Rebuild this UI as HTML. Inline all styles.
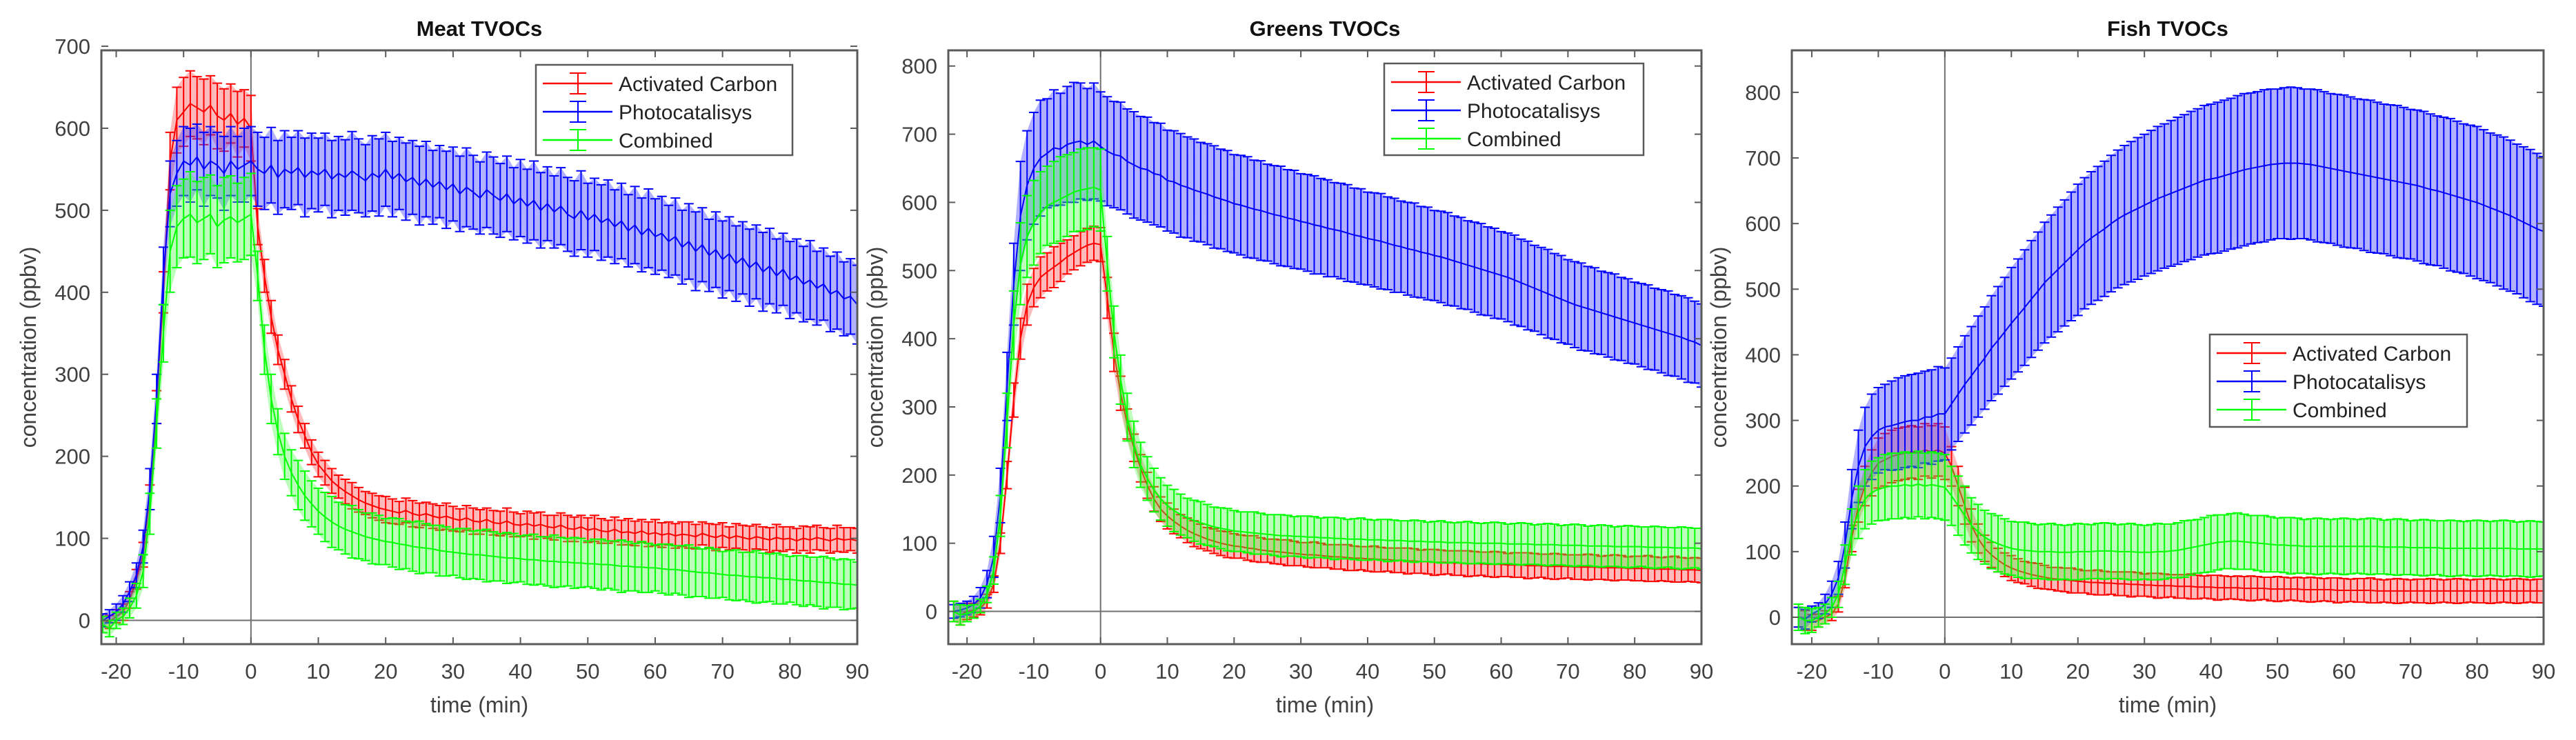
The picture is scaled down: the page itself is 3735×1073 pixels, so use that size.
<!DOCTYPE html>
<html><head><meta charset="utf-8">
<style>
html,body{margin:0;padding:0;background:#fff;}
svg{display:block;}
text{font-family:"Liberation Sans",Arial,sans-serif;}
</style></head>
<body>
<svg id="fig" width="3735" height="1073" viewBox="0 0 3735 1073" xmlns="http://www.w3.org/2000/svg"></svg>
<script>
// ---------- DATA ----------
const timeStart = -22;            // minutes, first sample
const xTicks = [-20,-10,0,10,20,30,40,50,60,70,80,90];
const yTicksMeat = [0,100,200,300,400,500,600,700];
const yTicksGreens = [0,100,200,300,400,500,600,700,800];
const yTicksFish = [0,100,200,300,400,500,600,700,800];
const seriesNames = ["Activated Carbon","Photocatalisys","Combined"];
const panelTitles = ["Meat TVOCs","Greens TVOCs","Fish TVOCs"];

// Meat
const meatRed = [0,-2,5,10,25,50,80,150,260,400,560,610,620,630,625,620,628,615,610,618,605,612,600,
480,420,370,330,300,270,245,225,205,190,180,170,163,157,152,147,143,140,137,135,
133,131,134,130,128,130,127,125,127,124,122,125,121,120,123,119,118,121,117,116,
118,115,117,114,113,116,112,111,114,110,112,109,108,111,107,108,106,109,105,107,
104,106,103,105,104,102,106,103,101,104,100,103,101,99,102,100,98,101,99,100,
97,100,98,101,99,97,100,98,99,97];
const meatRedErr = [8,8,8,10,10,12,15,15,20,25,35,40,42,40,38,40,36,40,38,36,40,35,40,
22,20,20,18,18,16,16,15,15,15,15,15,14,15,16,15,14,15,15,16,15,14,15,16,15,14,15,15,16,15,
14,15,16,15,14,15,15,16,15,14,15,16,15,14,15,15,16,15,14,15,16,15,14,15,15,16,15,14,15,16,
15,14,15,15,16,15,14,15,16,15,14,15,15,16,15,14,15,16,15,14,15,15,16,15,14,15,16,15,14,15];
const meatBlue = [0,5,10,20,35,55,90,160,270,420,520,545,560,555,565,550,560,555,545,560,550,555,560,
550,545,555,540,550,545,552,540,548,543,550,538,545,540,548,542,536,545,540,550,
538,545,535,540,530,538,528,535,525,532,520,528,522,515,525,518,512,520,508,515,
505,512,500,508,498,505,495,490,500,488,495,485,490,480,487,475,482,470,478,468,
472,462,468,455,462,450,458,445,452,440,447,435,442,430,437,425,432,420,428,415,
420,410,415,405,410,398,402,392,395,385];
const meatBlueErr = [8,8,10,10,12,15,20,25,30,35,40,40,42,45,40,45,42,40,45,42,40,45,42,
45,44,46,45,47,44,45,48,46,45,44,47,45,46,48,45,44,46,47,45,46,44,47,45,48,46,45,44,47,45,
46,48,45,44,46,47,45,46,44,47,45,48,46,45,44,47,45,46,48,45,44,46,47,45,46,44,47,45,48,46,
45,44,47,45,46,48,45,44,46,47,45,46,44,47,45,48,46,45,44,47,45,46,48,45,44,46,47,45,46,48];
const meatGreen = [-5,-10,0,5,15,30,60,130,240,350,450,480,490,495,485,490,495,480,488,492,485,490,495,
420,330,270,230,200,180,165,152,142,133,126,120,115,111,108,105,102,100,98,96,
95,93,92,90,89,88,87,85,84,83,82,81,80,80,79,78,77,76,76,75,
74,74,73,72,72,71,71,70,70,69,69,68,68,67,66,66,65,65,64,64,
63,62,62,61,60,59,58,58,57,56,55,55,54,53,53,52,52,51,50,50,
49,48,48,47,46,46,45,44,44,43];
const meatGreenErr = [10,10,10,10,12,15,20,25,30,35,50,50,48,52,50,50,48,50,52,50,48,50,50,
30,30,30,28,28,28,30,30,28,28,30,31,29,30,32,30,29,31,30,28,30,31,29,30,32,30,29,31,30,28,
30,31,29,30,32,30,29,31,30,28,30,31,29,30,32,30,29,31,30,28,30,31,29,30,32,30,29,31,30,28,
30,31,29,30,32,30,29,31,30,28,30,31,29,30,32,30,29,31,30,28,30,31,29,30,32,30,29,31,30,28];

// Greens
const greensRed = [0,-5,0,2,5,15,40,100,200,310,400,450,475,490,498,505,512,520,526,532,537,540,538,
460,380,320,275,240,210,185,165,150,140,132,125,119,114,110,106,103,100,98,96,
95,93,92,90,89,88,87,86,85,84,83,83,82,81,80,80,79,78,78,77,
77,76,76,75,75,74,74,73,73,72,72,72,71,71,70,70,70,69,69,69,
68,68,68,67,67,67,66,66,66,66,65,65,65,65,64,64,64,64,63,63,
63,63,62,62,62,62,61,61,61,60];
const greensRedErr = [15,15,12,10,10,10,12,15,20,25,30,30,28,30,28,30,28,25,25,25,25,25,25,
30,28,25,22,20,20,19,18,18,19,18,17,18,19,18,17,18,18,19,18,17,18,19,18,17,18,18,19,18,17,
18,19,18,17,18,18,19,18,17,18,19,18,17,18,18,19,18,17,18,19,18,17,18,18,19,18,17,18,19,18,
17,18,18,19,18,17,18,19,18,17,18,18,19,18,17,18,19,18,17,18,18,19,18,17,18,19,18,17,18,18];
const greensBlue = [0,2,5,10,20,40,80,170,330,480,580,625,650,665,672,680,678,685,688,690,685,690,682,
675,670,668,660,655,650,648,642,640,632,630,625,622,618,615,612,608,605,602,598,
596,593,590,588,585,582,580,577,575,572,570,567,565,562,560,558,555,552,550,547,
545,543,540,537,535,532,530,527,525,522,520,517,514,511,508,505,502,499,496,493,
490,486,482,478,474,470,466,462,458,454,450,447,444,441,438,435,432,429,426,423,
420,417,414,411,408,405,402,398,395,390];
const greensBlueErr = [10,10,10,12,15,20,30,40,50,60,80,80,82,85,80,85,82,85,88,85,82,85,80,
80,78,79,77,78,76,77,75,76,74,75,76,74,75,73,74,75,73,74,72,73,74,72,73,71,72,73,71,72,70,
71,72,70,71,69,70,71,69,70,68,69,70,68,69,67,68,69,67,68,66,67,68,66,67,65,66,67,65,66,64,
65,66,64,65,63,64,65,63,64,62,63,64,62,63,61,62,63,61,62,60,61,62,60,61,62,60,61,62,60,61];
const greensGreen = [0,-5,-3,0,8,25,60,140,280,420,510,550,570,585,595,600,605,610,615,618,620,622,618,
510,410,340,285,245,215,195,178,165,155,148,142,137,133,130,127,124,122,120,118,
117,116,115,114,113,112,111,111,110,110,109,109,108,108,107,107,106,106,106,105,
105,105,104,104,104,103,103,103,102,102,102,101,101,101,101,100,100,100,100,100,
99,99,99,99,98,98,98,98,97,97,97,97,96,96,96,96,95,95,95,95,
95,94,94,94,94,93,93,93,93,92];
const greensGreenErr = [15,15,12,10,10,12,20,30,40,50,60,60,62,60,58,60,62,60,58,60,60,58,60,
40,38,36,35,34,33,32,32,31,30,31,30,29,30,31,30,29,30,31,30,29,30,31,30,29,30,31,30,29,30,
31,30,29,30,31,30,29,30,31,30,29,30,31,30,29,30,31,30,29,30,31,30,29,30,31,30,29,30,31,30,
29,30,31,30,29,30,31,30,29,30,31,30,29,30,31,30,29,30,31,30,29,30,31,30,29,30,31,30,29,30];

// Fish
const fishRed = [0,-5,-8,-5,0,5,20,60,120,170,200,220,235,240,245,248,250,252,250,255,252,255,250,
230,200,170,140,120,105,95,87,80,75,71,68,65,63,61,59,58,57,56,55,
54,53,53,52,52,51,51,50,50,49,49,48,48,48,47,47,47,46,46,46,
45,45,45,45,44,44,44,44,43,43,43,43,43,42,42,42,42,42,41,41,
41,41,41,41,40,40,40,40,40,40,40,40,40,40,40,40,40,40,40,40,
40,40,40,40,40,40,40,40,40,40];
const fishRedErr = [15,15,12,10,10,10,12,15,20,25,30,35,38,40,40,40,40,40,40,40,40,40,40,
30,30,28,25,22,20,19,18,18,19,18,17,18,19,18,17,18,18,19,18,17,18,19,18,17,18,18,19,18,17,
18,19,18,17,18,18,19,18,17,18,19,18,17,18,18,19,18,17,18,19,18,17,18,18,19,18,17,18,19,18,
17,18,18,19,18,17,18,19,18,17,18,18,19,18,17,18,19,18,17,18,18,19,18,17,18,19,18,17,18,18];
const fishBlue = [0,-3,5,10,20,35,60,110,180,230,260,275,285,290,292,295,298,300,300,305,305,310,310,
325,340,355,368,382,395,410,422,435,448,460,472,485,497,510,520,530,540,550,560,
570,578,585,592,600,607,613,618,623,628,633,638,642,646,650,654,658,662,666,668,
670,673,676,679,682,684,686,688,690,691,692,692,692,691,690,688,686,684,682,680,
678,676,674,672,670,668,666,664,662,660,658,655,652,650,647,644,641,638,635,632,
628,624,620,616,612,607,602,597,592,588];
const fishBlueErr = [15,15,12,12,15,20,25,35,45,55,60,65,65,65,68,70,70,70,72,70,72,72,70,
70,72,74,75,77,78,80,82,83,85,86,88,89,90,92,93,95,96,98,100,100,101,102,103,104,105,106,107,108,108,
109,110,110,111,112,112,113,113,114,114,115,115,115,116,116,115,115,116,115,114,115,116,115,114,115,116,115,114,115,116,
115,114,115,116,115,114,115,116,115,114,115,116,115,114,115,116,115,114,115,116,115,114,115,116,115,114,115,116,115,114];
const fishGreen = [0,-5,-5,0,5,15,35,80,130,160,180,190,195,198,200,200,202,200,203,200,202,200,198,
185,170,155,140,130,122,116,112,108,105,103,102,101,100,100,100,99,99,99,100,
100,100,101,101,101,100,100,100,99,99,99,100,100,101,102,104,106,108,110,112,
114,115,116,116,115,114,113,112,111,110,110,109,109,108,108,108,108,108,108,108,
108,108,108,108,108,107,107,107,107,106,106,106,106,106,105,105,105,105,105,105,
105,105,105,105,105,104,104,104,104,104];
const fishGreenErr = [20,20,18,15,15,15,20,30,35,40,45,48,48,50,50,50,50,50,50,50,50,50,50,
45,45,45,42,42,41,42,43,42,41,42,43,42,41,42,43,42,41,42,43,42,41,42,43,42,41,42,43,42,41,
42,43,42,41,42,43,42,41,42,43,42,41,42,43,42,41,42,43,42,41,42,43,42,41,42,43,42,41,42,43,
42,41,42,43,42,41,42,43,42,41,42,43,42,41,42,43,42,41,42,43,42,41,42,43,42,41,42,43,42,41];

// ---------- DRAWING ----------
const NS = "http://www.w3.org/2000/svg";
const svg = document.getElementById("fig");
const colors = ["#ff0000","#0000ff","#00ff00"];
const fills = ["rgba(255,60,60,0.35)","rgba(60,60,255,0.4)","rgba(60,255,60,0.35)"];

function mk(tag, attrs, parent){
  const el = document.createElementNS(NS, tag);
  for (const k in attrs) el.setAttribute(k, attrs[k]);
  (parent||svg).appendChild(el);
  return el;
}

const panels = [
  {key:"meat", left:147, right:1243, top:73, bottom:934, xmin:-22.2, xmax:90, ymin:-29, ymax:695, yTicks:yTicksMeat,
   series:[[meatRed,meatRedErr],[meatBlue,meatBlueErr],[meatGreen,meatGreenErr]],
   legend:{x:777,y:94,w:372,h:131}},
  {key:"greens", left:1375, right:2467, top:73, bottom:934, xmin:-22.8, xmax:90, ymin:-48, ymax:823, yTicks:yTicksGreens,
   series:[[greensRed,greensRedErr],[greensBlue,greensBlueErr],[greensGreen,greensGreenErr]],
   legend:{x:2007,y:92,w:376,h:133}},
  {key:"fish", left:2598, right:3688, top:73, bottom:934, xmin:-23, xmax:90, ymin:-41, ymax:864, yTicks:yTicksFish,
   series:[[fishRed,fishRedErr],[fishBlue,fishBlueErr],[fishGreen,fishGreenErr]],
   legend:{x:3204,y:485,w:373,h:134}}
];

panels.forEach((p, pi) => {
  const g = mk("g", {});
  
  
  const sx = v => p.left + (v - p.xmin) / (p.xmax - p.xmin) * (p.right - p.left);
  const sy = v => p.bottom - (v - p.ymin) / (p.ymax - p.ymin) * (p.bottom - p.top);

  // clip
  const cp = mk("clipPath", {id:"clip"+pi}, g);
  mk("rect", {x:p.left, y:p.top, width:p.right-p.left, height:p.bottom-p.top}, cp);

  // zero lines
  const zl = mk("line", {x1:p.left, x2:p.right, y1:sy(0), y2:sy(0), stroke:"#707070", "stroke-width":2}, g);
  
  
  const vl = mk("line", {x1:sx(0), x2:sx(0), y1:p.top, y2:p.bottom, stroke:"#707070", "stroke-width":2}, g);
  
  

  const plot = mk("g", {"clip-path":"url(#clip"+pi+")"}, g);
  p.series.forEach((s, si) => {
    const vals = s[0], errs = s[1];
    const n = vals.length;
    const sg = mk("g", {}, plot);
    
    
    // shaded band
    let up = [], lo = [];
    for (let i = 0; i < n; i++) {
      const t = timeStart + i;
      up.push(sx(t).toFixed(1) + "," + sy(vals[i] + errs[i]).toFixed(1));
      lo.unshift(sx(t).toFixed(1) + "," + sy(vals[i] - errs[i]).toFixed(1));
    }
    const band = mk("polygon", {points: up.concat(lo).join(" "), fill: fills[si], stroke:"none"}, sg);
    
    
    // error bars
    let d = "";
    for (let i = 0; i < n; i++) {
      const x = sx(timeStart + i), y1 = sy(vals[i] + errs[i]), y2 = sy(vals[i] - errs[i]);
      d += `M${x.toFixed(1)},${y1.toFixed(1)}V${y2.toFixed(1)}M${(x-7).toFixed(1)},${y1.toFixed(1)}H${(x+7).toFixed(1)}M${(x-7).toFixed(1)},${y2.toFixed(1)}H${(x+7).toFixed(1)}`;
    }
    const eb = mk("path", {d:d, stroke:colors[si], "stroke-width":2, fill:"none"}, sg);
    
    
    // mean line
    let pts = [];
    for (let i = 0; i < n; i++) pts.push(sx(timeStart + i).toFixed(1) + "," + sy(vals[i]).toFixed(1));
    const ln = mk("polyline", {points: pts.join(" "), fill:"none", stroke:colors[si], "stroke-width":2}, sg);
    
    
  });

  // box
  const box = mk("rect", {x:p.left, y:p.top, width:p.right-p.left, height:p.bottom-p.top, fill:"none", stroke:"#5a5a5a", "stroke-width":3}, g);
  
  

  // x ticks
  xTicks.forEach(t => {
    const x = sx(t);
    mk("line", {x1:x, x2:x, y1:p.bottom, y2:p.bottom-10, stroke:"#5a5a5a", "stroke-width":2}, g);
    mk("line", {x1:x, x2:x, y1:p.top, y2:p.top+10, stroke:"#5a5a5a", "stroke-width":2}, g);
    const tx = mk("text", {x:x, y:p.bottom+50, "font-size":31, fill:"#404040", "text-anchor":"middle"}, g);
    tx.textContent = t;
    
    
  });
  // y ticks
  p.yTicks.forEach(t => {
    const y = sy(t);
    mk("line", {x1:p.left, x2:p.left+10, y1:y, y2:y, stroke:"#5a5a5a", "stroke-width":2}, g);
    mk("line", {x1:p.right, x2:p.right-10, y1:y, y2:y, stroke:"#5a5a5a", "stroke-width":2}, g);
    const ty = mk("text", {x:p.left-16, y:y+11, "font-size":31, fill:"#404040", "text-anchor":"end"}, g);
    ty.textContent = t;
    
    
  });

  const cx = (p.left + p.right) / 2;
  const title = mk("text", {x:cx, y:52, "font-size":31, "font-weight":"bold", fill:"#111", "text-anchor":"middle"}, g);
  title.textContent = panelTitles[pi];
  
  

  const xl = mk("text", {x:cx, y:1033, "font-size":32, fill:"#404040", "text-anchor":"middle"}, g);
  xl.textContent = "time (min)";
  
  

  const yc = (p.top + p.bottom) / 2;
  const yl = mk("text", {x:0, y:0, "font-size":32, fill:"#404040", "text-anchor":"middle",
    transform:`translate(${p.left-95},${yc}) rotate(-90)`}, g);
  yl.textContent = "concentration (ppbv)";
  
  

  // legend
  const L = p.legend;
  const lg = mk("g", {}, g);
  
  
  mk("rect", {x:L.x, y:L.y, width:L.w, height:L.h, fill:"#fff", stroke:"#5a5a5a", "stroke-width":2.5}, lg);
  seriesNames.forEach((nm, si) => {
    const ey = L.y + 27 + si * 41;
    const le = mk("g", {}, lg);
    
    
    mk("line", {x1:L.x+10, x2:L.x+111, y1:ey, y2:ey, stroke:colors[si], "stroke-width":2.5}, le);
    const mx = L.x + 61;
    mk("path", {d:`M${mx},${ey-15}V${ey+15}M${mx-12},${ey-15}H${mx+12}M${mx-12},${ey+15}H${mx+12}`, stroke:colors[si], "stroke-width":2, fill:"none"}, le);
    const lt = mk("text", {x:L.x+120, y:ey+11, "font-size":30, fill:"#222"}, le);
    lt.textContent = nm;
  });
});
</script>
</body></html>
